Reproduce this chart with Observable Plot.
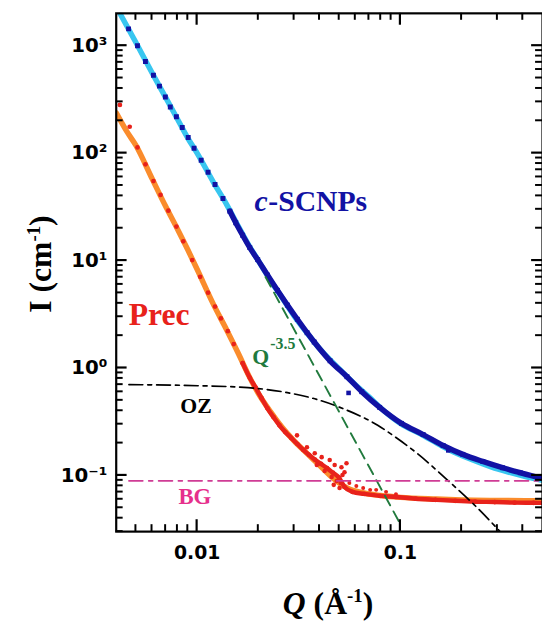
<!DOCTYPE html>
<html><head><meta charset="utf-8">
<script src="https://cdn.jsdelivr.net/npm/d3@7"></script>
<script src="https://cdn.jsdelivr.net/npm/@observablehq/plot@0.6"></script>
<style>
body{margin:0;background:#fff;}
#wrap{width:542px;height:631px;overflow:hidden;position:relative;background:#fff;}
</style></head><body><div id="wrap"></div>
<script>
// ---- c-SCNPs measured data ----
const scnpQ = [0.00460,0.00509,0.00557,0.00610,0.00653,0.00698,0.00738,0.00791,0.00845,0.00904,0.00966,0.01047,0.01132,0.01225,0.01340,0.01449,0.01549,0.01675,0.01816,0.01986,0.02218,0.02483,0.02780,0.03112,0.03475,0.03767,0.04508,0.05458,0.06457,0.07907,0.1012,0.1294,0.1622,0.2028,0.2541,0.3177,0.3890,0.4710,0.5];
const scnpI = [1433,1000,713,530,420,333,269,218,173,140,111,85.9,66.4,51.0,37.8,28.8,22.5,17.2,13.2,10.2,7.33,5.28,3.85,2.84,2.13,1.745,1.167,0.83,0.602,0.430,0.305,0.240,0.190,0.157,0.135,0.118,0.106,0.0965,0.094];
const scnpOutQ = [0.0556,0.172];
const scnpOutI = [0.586,0.171];
// ---- c-SCNPs fit ----
const scnpFitQ = [0.00420,0.0050,0.0060,0.0070,0.0080,0.0090,0.0100,0.0120,0.0140,0.0160,0.0180,0.0200,0.0230,0.0260,0.0300,0.0350,0.0400,0.0500,0.0600,0.0700,0.0800,0.1000,0.1300,0.1600,0.2000,0.2500,0.3000,0.4000,0.5000];
const scnpFitI = [1950,1070,560,330,208,138,100,54,33,20.6,13.8,10.0,6.5,4.6,3.05,2.08,1.52,0.98,0.70,0.54,0.425,0.305,0.235,0.188,0.153,0.130,0.115,0.099,0.090];
// ---- Prec measured data ----
const precQ = [0.00417,0.00466,0.00509,0.00557,0.00610,0.00661,0.00722,0.00791,0.00855,0.00946,0.01035,0.01132,0.01225,0.01309,0.01416,0.01514,0.01675,0.01816,0.01941,0.02075,0.02218,0.02377,0.02541,0.02716,0.02904,0.03112,0.03327,0.03556,0.03802,0.04074,0.04355,0.04656,0.04989,0.0531,0.0581,0.0664,0.0794,0.0951,0.1189,0.1489,0.1862,0.2329,0.2914,0.3646,0.452,0.5];
const precI = [281,176,113,78.7,54.9,40.8,29.1,20.7,15.1,10.1,7.05,5.02,3.73,2.89,2.20,1.67,1.11,0.811,0.655,0.525,0.421,0.348,0.293,0.253,0.223,0.196,0.173,0.155,0.140,0.128,0.117,0.106,0.0955,0.0782,0.0703,0.0673,0.0645,0.0630,0.0607,0.0593,0.0580,0.0570,0.0565,0.0558,0.0556,0.0555];
const precScatQ = [0.0310,0.0347,0.0379,0.0388,0.0410,0.0424,0.0449,0.0459,0.0475,0.0486,0.0502,0.0513,0.0519,0.0531,0.0543,0.0508,0.0470];
const precScatI = [0.236,0.183,0.161,0.125,0.148,0.110,0.139,0.0966,0.125,0.0887,0.0765,0.119,0.101,0.107,0.130,0.0851,0.0817];
const precTailQ = [0.0561,0.0607,0.0656,0.0710,0.0760,0.0850,0.0951];
const precTailI = [0.0851,0.0798,0.0765,0.0734,0.0734,0.0703,0.0670];
// ---- Prec fit ----
const precFitQ = [0.00400,0.00450,0.00500,0.00600,0.00700,0.00800,0.00900,0.01000,0.01200,0.01400,0.01600,0.01800,0.02000,0.02300,0.02600,0.03000,0.03500,0.04000,0.04500,0.05000,0.05500,0.06500,0.08000,0.10000,0.15000,0.20000,0.30000,0.50000];
const precFitI = [237,160,118,58,32,19.7,12.6,8.3,3.95,2.25,1.35,0.84,0.58,0.39,0.285,0.210,0.158,0.124,0.100,0.085,0.076,0.069,0.065,0.0625,0.0603,0.0592,0.0585,0.0580];
// ---- model components ----
const ozQ = [0.00462,0.0101,0.0178,0.0278,0.0389,0.0504,0.0773,0.0955,0.1211,0.1694,0.2296,0.3076];
const ozI = [0.700,0.684,0.656,0.590,0.509,0.430,0.293,0.224,0.160,0.0915,0.0538,0.0304];
const porodQ = [0.0217,0.100];
const porodI = [7.03,0.0352];
const bgQ = [0.00462,0.5];
const bgI = [0.089,0.089];
// ---- annotations ----
const labelText = ["c","-SCNPs","Prec","Q","-3.5","OZ","BG"];
const labelQ = [0.01914,0.01914,0.00461,0.0187,0.0229,0.00827,0.00809];
const labelI = [29,29,2.53,1.08,1.49,0.384,0.0546];
// ---- ticks ----
const xMajor = [0.01,0.1];
const xTickLabels = ["0.01","0.1"];
const xMinor = [0.005,0.006,0.007,0.008,0.009,0.02,0.03,0.04,0.05,0.06,0.07,0.08,0.09,0.2,0.3,0.4];
const yMajor = [0.1,1,10,100,1000];
const yTickLabels = ["10\u207B\u00B9","10\u2070","10\u00B9","10\u00B2","10\u00B3"];
const yMinor = [0.03,0.04,0.05,0.06,0.07,0.08,0.09,0.2,0.3,0.4,0.5,0.6,0.7,0.8,0.9,2,3,4,5,6,7,8,9,20,30,40,50,60,70,80,90,200,300,400,500,600,700,800,900];

const zip = (q, v) => q.map((d, i) => ({Q: d, I: v[i]}));
const scnp = zip(scnpQ, scnpI), scnpOut = zip(scnpOutQ, scnpOutI), scnpFit = zip(scnpFitQ, scnpFitI);
const prec = zip(precQ, precI), precScat = zip(precScatQ, precScatI), precTail = zip(precTailQ, precTailI), precFit = zip(precFitQ, precFitI);
const oz = zip(ozQ, ozI), porod = zip(porodQ, porodI), bg = zip(bgQ, bgI);
const labels = labelText.map((t, i) => ({t, Q: labelQ[i], I: labelI[i]}));

const W = 548, H = 631, ML = 117, MT = 13, MB = 94;
const serif = "Liberation Serif, Times New Roman, serif";
const sans = "DejaVu Sans, sans-serif";
const NAVY = "#1212a4", CYAN = "#38c6f0", RED = "#e8221b", ORANGE = "#fa8c2c", GREEN = "#217a3d", MAG = "#cf3c95";

const lab = (i, o) => Plot.text([labels[i]], {x: "Q", y: "I", text: "t", textAnchor: "start", lineAnchor: "bottom", fontFamily: serif, fontWeight: "bold", ...o});

const chart = Plot.plot({
  width: W, height: H,
  marginLeft: ML, marginRight: 0, marginTop: MT, marginBottom: MB,
  x: {type: "log", domain: [0.004, 0.5]},
  y: {type: "log", domain: [0.03, 2000]},
  marks: [
    Plot.line(scnpFit, {x: "Q", y: "I", stroke: CYAN, strokeWidth: 5.5, curve: "monotone-x", clip: true}),
    Plot.line(precFit, {x: "Q", y: "I", stroke: ORANGE, strokeWidth: 5.5, curve: "monotone-x", clip: true}),
    Plot.line(scnp, {filter: d => d.Q > 0.014, x: "Q", y: "I", stroke: NAVY, strokeWidth: 5.5, curve: "monotone-x", clip: true}),
    Plot.line(prec, {filter: d => d.Q > 0.0155, x: "Q", y: "I", stroke: RED, strokeWidth: 4.5, curve: "monotone-x", clip: true}),
    Plot.dot(scnp, {x: "Q", y: "I", symbol: "square", r: 2.8, fill: NAVY, clip: true}),
    Plot.dot(scnpOut, {x: "Q", y: "I", symbol: "square", r: 2.6, fill: NAVY, clip: true}),
    Plot.dot(prec, {x: "Q", y: "I", r: 2.4, fill: RED, clip: true}),
    Plot.dot(precScat, {x: "Q", y: "I", r: 2.3, fill: RED, clip: true}),
    Plot.dot(precTail, {x: "Q", y: "I", r: 2.0, fill: RED, clip: true}),
    Plot.line(oz, {x: "Q", y: "I", stroke: "black", strokeWidth: 1.7, strokeDasharray: "14,5,4,5", curve: "monotone-x", clip: true}),
    Plot.line(porod, {x: "Q", y: "I", stroke: GREEN, strokeWidth: 1.9, strokeDasharray: "11,7", clip: true}),
    Plot.line(bg, {x: "Q", y: "I", stroke: MAG, strokeWidth: 1.7, strokeDasharray: "14,6,4,6", clip: true}),
    lab(0, {fill: NAVY, fontSize: 30, fontStyle: "italic"}),
    lab(1, {fill: NAVY, fontSize: 30, dx: 14}),
    lab(2, {fill: RED, fontSize: 32}),
    lab(3, {fill: GREEN, fontSize: 22}),
    lab(4, {fill: GREEN, fontSize: 16}),
    lab(5, {fill: "black", fontSize: 22}),
    lab(6, {fill: "#e6308c", fontSize: 23}),
    Plot.frame({stroke: "black", strokeWidth: 2.2}),
    Plot.axisY(yMajor, {tickSize: 0, tickPadding: 9, tickFormat: d => yTickLabels[yMajor.indexOf(d)], fontSize: 20, fontWeight: "bold", fontFamily: sans, fill: "black", label: null}),
    Plot.axisX(xMajor, {tickSize: 0, tickPadding: 14, tickFormat: d => xTickLabels[xMajor.indexOf(d)], fontSize: 19, fontWeight: "bold", fontFamily: sans, fill: "black", label: null})
  ]
});

const svg = d3.select(chart);

// inward ticks on all four sides, positioned by the chart's own scales
try {
  const sx = chart.scale("x"), sy = chart.scale("y");
  const fx = typeof sx.apply === "function" ? sx.apply : d3.scaleLog(sx.domain, sx.range);
  const fy = typeof sy.apply === "function" ? sy.apply : d3.scaleLog(sy.domain, sy.range);
  const [x0, x1] = sx.range, [y0, y1] = sy.range; // y0 bottom, y1 top
  const gT = svg.append("g").attr("stroke", "black").attr("stroke-linecap", "butt");
  const addY = (vals, len, w) => vals.forEach(v => {
    const y = fy(v);
    gT.append("line").attr("x1", x0).attr("x2", x0 + len).attr("y1", y).attr("y2", y).attr("stroke-width", w);
    gT.append("line").attr("x1", x1).attr("x2", x1 - len).attr("y1", y).attr("y2", y).attr("stroke-width", w);
  });
  const addX = (vals, len, w) => vals.forEach(v => {
    const x = fx(v);
    gT.append("line").attr("x1", x).attr("x2", x).attr("y1", y0).attr("y2", y0 - len).attr("stroke-width", w);
    gT.append("line").attr("x1", x).attr("x2", x).attr("y1", y1).attr("y2", y1 + len).attr("stroke-width", w);
  });
  addY(yMajor, 11, 2.2); addY(yMinor, 7, 2);
  addX(xMajor, 12, 2.2); addX(xMinor, 7, 2);
} catch (e) { console.error(e); }

// axis titles with real superscripts
const yt = svg.append("text")
  .attr("transform", "translate(52,267) rotate(-90)")
  .attr("text-anchor", "middle")
  .style("font-family", serif).style("font-weight", "bold").style("font-size", "32px").attr("fill", "black");
yt.append("tspan").text("I (cm");
yt.append("tspan").attr("dy", -12).style("font-size", "19px").text("-1");
yt.append("tspan").attr("dy", 12).text(")");

const xt = svg.append("text")
  .attr("x", 286).attr("y", 621)
  .attr("text-anchor", "start")
  .style("font-family", serif).style("font-weight", "bold").style("font-size", "32px").attr("fill", "black");
xt.append("tspan").style("font-style", "italic").text("Q");
xt.append("tspan").text(" (\u00C5");
xt.append("tspan").attr("dy", -12).style("font-size", "19px").text("-1");
xt.append("tspan").attr("dy", 12).text(")");

document.getElementById("wrap").appendChild(chart);
</script></body></html>
